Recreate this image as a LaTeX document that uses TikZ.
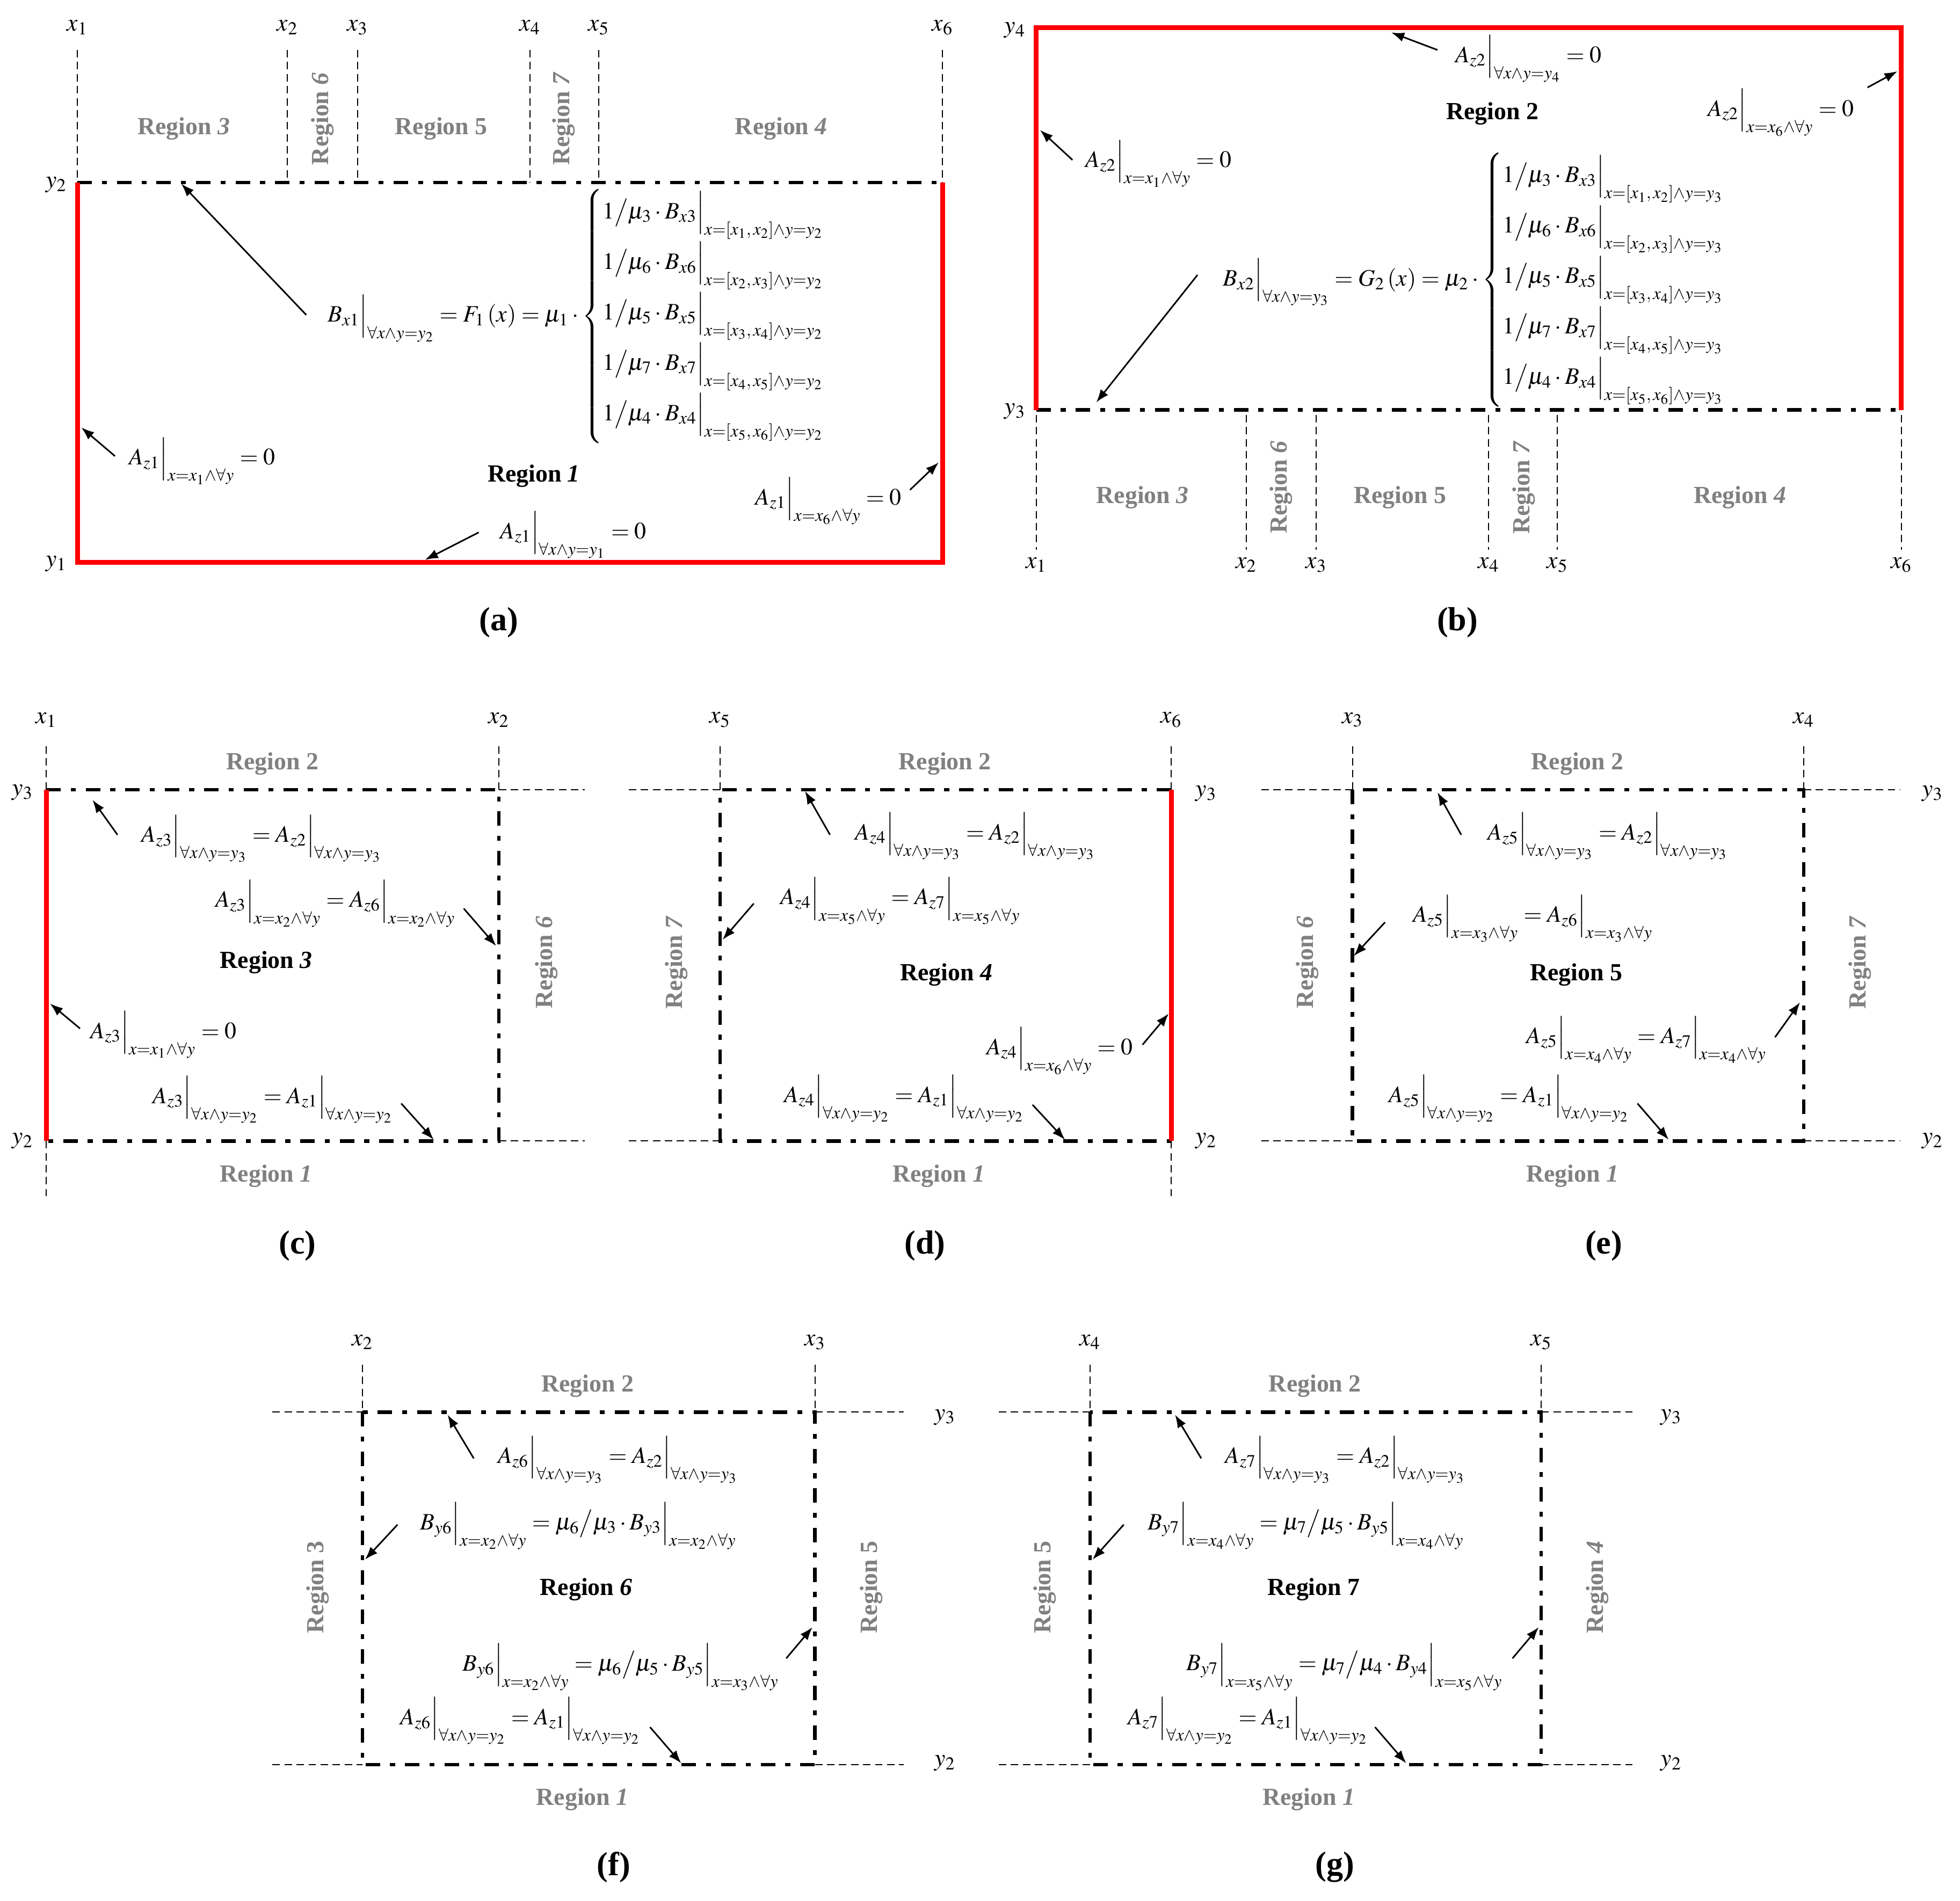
\documentclass[tikz,border=0pt]{standalone}
\usepackage{mathptmx}
\usepackage{fontspec}
\setmainfont{Liberation Serif}
\usetikzlibrary{arrows.meta}

\newcommand{\evalbar}[2]{#1\Big|_{#2}}
\newcommand{\brow}[4]{1\big/\mu_{#1}\cdot\evalbar{B_{x#1}}{x=\left[x_{#2},\,x_{#3}\right]\wedge y=y_{#4}}}

\begin{document}
\begin{tikzpicture}[x=0.025cm,y=-0.025cm,
      wall/.style={red,line width=2.8pt,line join=miter},
      iface/.style={line width=2pt,dash pattern=on 0.29cm off 0.2cm on 0.1cm off 0.2cm},
      guide/.style={line width=0.6pt,dash pattern=on 0.15cm off 0.09cm},
      pointer/.style={-{Latex[length=2.6mm,width=1.9mm]},line width=0.9pt},
      eq/.style={anchor=west,inner sep=0pt,font=\fontsize{13.4}{16}\selectfont},
      lbl/.style={inner sep=0pt,font=\fontsize{14}{16}\selectfont},
      reg/.style={inner sep=0pt,font=\fontsize{14}{16}\selectfont\bfseries},
      nbr/.style={reg,gray},
      nbrv/.style={nbr,rotate=90},
      tag/.style={inner sep=0pt,font=\fontsize{19}{22}\selectfont\bfseries}]
    \useasboundingbox[fill=white] (0,0) rectangle (1568,1521);

    % (a) region 1
    \foreach \i/\x in {1/62,2/230,3/286,4/424,5/479,6/754} {
        \draw[guide] (\x,40) -- (\x,146);
        \node[lbl] (a-x\i) at (\x,22) {$x_{\i}$};
    }
    \draw[iface] (62,146) -- (754,146);
    \draw[wall] (62,146) -- (62,450) -- (754,450) -- (754,146);
    \node[lbl] (a-y2) at (45,148) {$y_2$};
    \node[lbl] (a-y1) at (45,451) {$y_1$};
    \node[nbr] (a-r3) at (147,103) {Region \textit{3}};
    \node[nbrv] (a-r6) at (258,95) {Region \textit{6}};
    \node[nbr] (a-r5) at (353,103) {Region 5};
    \node[nbrv] (a-r7) at (451,95) {Region \textit{7}};
    \node[nbr] (a-r4) at (625,103) {Region \textit{4}};
    \node[reg] (a-r1) at (427,381) {Region \textit{1}};
    \node[eq] (a-bx) at (262,253) {$\evalbar{B_{x1}}{\forall x\wedge y=y_2}=F_1\left(x\right)=\mu_1\cdot\left\{\begin{array}{@{}l@{}}
        \brow{3}{1}{2}{2}\\[8.5pt]
        \brow{6}{2}{3}{2}\\[8.5pt]
        \brow{5}{3}{4}{2}\\[8.5pt]
        \brow{7}{4}{5}{2}\\[8.5pt]
        \brow{4}{5}{6}{2}
        \end{array}\right.$};
    \node[eq] (a-zl) at (103,369) {$\evalbar{A_{z1}}{x=x_1\wedge\forall y}=0$};
    \node[eq] (a-zr) at (604,401) {$\evalbar{A_{z1}}{x=x_6\wedge\forall y}=0$};
    \node[eq] (a-zb) at (400,428) {$\evalbar{A_{z1}}{\forall x\wedge y=y_1}=0$};
    \coordinate (a-s1) at (245,252); \coordinate (a-e1) at (145,147);
    \coordinate (a-s2) at (92,365);  \coordinate (a-e2) at (65,342);
    \coordinate (a-s3) at (728,392); \coordinate (a-e3) at (751,370);
    \coordinate (a-s4) at (383,426); \coordinate (a-e4) at (340,448);
    \foreach \k in {1,...,4}
        \draw[pointer] (a-s\k) -- (a-e\k);
    \node[tag] (a-tag) at (399,498) {(a)};

    % (b) region 2
    \foreach \i/\x in {1/829,2/997,3/1053,4/1191,5/1246,6/1521} {
        \draw[guide] (\x,332) -- (\x,440);
        \node[lbl] (b-x\i) at (\x,452) {$x_{\i}$};
    }
    \draw[iface] (829,328) -- (1521,328);
    \draw[wall] (829,328) -- (829,22) -- (1521,22) -- (1521,328);
    \node[lbl] (b-y4) at (812,24) {$y_4$};
    \node[lbl] (b-y3) at (812,329) {$y_3$};
    \node[nbr] (b-r3) at (914,398) {Region \textit{3}};
    \node[nbrv] (b-r6) at (1025,390) {Region \textit{6}};
    \node[nbr] (b-r5) at (1120,398) {Region 5};
    \node[nbrv] (b-r7) at (1219,390) {Region \textit{7}};
    \node[nbr] (b-r4) at (1392,398) {Region \textit{4}};
    \node[reg] (b-r2) at (1194,91) {Region 2};
    \node[eq] (b-bx) at (978,224) {$\evalbar{B_{x2}}{\forall x\wedge y=y_3}=G_2\left(x\right)=\mu_2\cdot\left\{\begin{array}{@{}l@{}}
        \brow{3}{1}{2}{3}\\[8.5pt]
        \brow{6}{2}{3}{3}\\[8.5pt]
        \brow{5}{3}{4}{3}\\[8.5pt]
        \brow{7}{4}{5}{3}\\[8.5pt]
        \brow{4}{5}{6}{3}
        \end{array}\right.$};
    \node[eq] (b-zt) at (1164,47) {$\evalbar{A_{z2}}{\forall x\wedge y=y_4}=0$};
    \node[eq] (b-zr) at (1366,90) {$\evalbar{A_{z2}}{x=x_6\wedge\forall y}=0$};
    \node[eq] (b-zl) at (868,131) {$\evalbar{A_{z2}}{x=x_1\wedge\forall y}=0$};
    \coordinate (b-s1) at (1150,40);  \coordinate (b-e1) at (1113,26);
    \coordinate (b-s2) at (1494,70);  \coordinate (b-e2) at (1518,57);
    \coordinate (b-s3) at (858,128);  \coordinate (b-e3) at (832,104);
    \coordinate (b-s4) at (958,220);  \coordinate (b-e4) at (877,322);
    \foreach \k in {1,...,4}
        \draw[pointer] (b-s\k) -- (b-e\k);
    \node[tag] (b-tag) at (1166,498) {(b)};

    % (c) region 3
    \draw[guide] (37,597) -- (37,632) (37,913) -- (37,957) (399,597) -- (399,632)
                 (399,632) -- (468,632) (399,913) -- (468,913);
    \draw[iface] (37,632) -- (399,632) -- (399,913) -- (37,913);
    \draw[wall] (37,632) -- (37,913);
    \node[lbl] (c-x1) at (37,576) {$x_1$};
    \node[lbl] (c-x2) at (399,576) {$x_2$};
    \node[lbl] (c-y3) at (18,634) {$y_3$};
    \node[lbl] (c-y2) at (18,913) {$y_2$};
    \node[nbr] (c-r2) at (218,611) {Region 2};
    \node[nbr] (c-r1) at (213,941) {Region \textit{1}};
    \node[nbrv] (c-r6) at (437,770) {Region \textit{6}};
    \node[reg] (c-r3) at (213,770) {Region \textit{3}};
    \node[eq] (c-e1) at (113,671) {$\evalbar{A_{z3}}{\forall x\wedge y=y_3}=\evalbar{A_{z2}}{\forall x\wedge y=y_3}$};
    \node[eq] (c-e2) at (172,723) {$\evalbar{A_{z3}}{x=x_2\wedge\forall y}=\evalbar{A_{z6}}{x=x_2\wedge\forall y}$};
    \node[eq] (c-e3) at (72,828) {$\evalbar{A_{z3}}{x=x_1\wedge\forall y}=0$};
    \node[eq] (c-e4) at (122,880) {$\evalbar{A_{z3}}{\forall x\wedge y=y_2}=\evalbar{A_{z1}}{\forall x\wedge y=y_2}$};
    \coordinate (c-s1) at (94,668);  \coordinate (c-e1) at (74,640);
    \coordinate (c-s2) at (371,727); \coordinate (c-e2) at (397,757);
    \coordinate (c-s3) at (64,823);  \coordinate (c-e3) at (40,803);
    \coordinate (c-s4) at (321,883); \coordinate (c-e4) at (347,912);
    \foreach \k in {1,...,4}
        \draw[pointer] (c-s\k) -- (c-e\k);
    \node[tag] (c-tag) at (238,997) {(c)};

    % (d) region 4
    \draw[guide] (576,597) -- (576,632) (937,597) -- (937,632) (937,913) -- (937,957)
                 (503,632) -- (576,632) (503,913) -- (576,913);
    \draw[iface] (937,632) -- (576,632) -- (576,913) -- (937,913);
    \draw[wall] (937,632) -- (937,913);
    \node[lbl] (d-x5) at (576,576) {$x_5$};
    \node[lbl] (d-x6) at (937,576) {$x_6$};
    \node[lbl] (d-y3) at (965,635) {$y_3$};
    \node[lbl] (d-y2) at (965,913) {$y_2$};
    \node[nbr] (d-r2) at (756,611) {Region 2};
    \node[nbr] (d-r1) at (751,941) {Region \textit{1}};
    \node[nbrv] (d-r7) at (541,770) {Region \textit{7}};
    \node[reg] (d-r4) at (757,780) {Region \textit{4}};
    \node[eq] (d-e1) at (684,669) {$\evalbar{A_{z4}}{\forall x\wedge y=y_3}=\evalbar{A_{z2}}{\forall x\wedge y=y_3}$};
    \node[eq] (d-e2) at (624,721) {$\evalbar{A_{z4}}{x=x_5\wedge\forall y}=\evalbar{A_{z7}}{x=x_5\wedge\forall y}$};
    \node[eq] (d-e3) at (789,841) {$\evalbar{A_{z4}}{x=x_6\wedge\forall y}=0$};
    \node[eq] (d-e4) at (627,879) {$\evalbar{A_{z4}}{\forall x\wedge y=y_2}=\evalbar{A_{z1}}{\forall x\wedge y=y_2}$};
    \coordinate (d-s1) at (664,668); \coordinate (d-e1) at (644,633);
    \coordinate (d-s2) at (603,723); \coordinate (d-e2) at (578,752);
    \coordinate (d-s3) at (914,836); \coordinate (d-e3) at (935,811);
    \coordinate (d-s4) at (826,884); \coordinate (d-e4) at (852,912);
    \foreach \k in {1,...,4}
        \draw[pointer] (d-s\k) -- (d-e\k);
    \node[tag] (d-tag) at (740,997) {(d)};

    % (e) region 5
    \draw[guide] (1082,597) -- (1082,632) (1443,597) -- (1443,632)
                 (1009,632) -- (1082,632) (1443,632) -- (1520,632)
                 (1009,913) -- (1082,913) (1443,913) -- (1520,913);
    \draw[iface] (1082,632) rectangle (1443,913);
    \node[lbl] (e-x3) at (1082,576) {$x_3$};
    \node[lbl] (e-x4) at (1443,576) {$x_4$};
    \node[lbl] (e-y3) at (1546,635) {$y_3$};
    \node[lbl] (e-y2) at (1546,913) {$y_2$};
    \node[nbr] (e-r2) at (1262,611) {Region 2};
    \node[nbr] (e-r1) at (1258,941) {Region \textit{1}};
    \node[nbrv] (e-r6) at (1046,770) {Region \textit{6}};
    \node[nbrv] (e-r7) at (1488,770) {Region \textit{7}};
    \node[reg] (e-r5) at (1261,780) {Region 5};
    \node[eq] (e-e1) at (1190,669) {$\evalbar{A_{z5}}{\forall x\wedge y=y_3}=\evalbar{A_{z2}}{\forall x\wedge y=y_3}$};
    \node[eq] (e-e2) at (1130,735) {$\evalbar{A_{z5}}{x=x_3\wedge\forall y}=\evalbar{A_{z6}}{x=x_3\wedge\forall y}$};
    \node[eq] (e-e3) at (1221,832) {$\evalbar{A_{z5}}{x=x_4\wedge\forall y}=\evalbar{A_{z7}}{x=x_4\wedge\forall y}$};
    \node[eq] (e-e4) at (1111,879) {$\evalbar{A_{z5}}{\forall x\wedge y=y_2}=\evalbar{A_{z1}}{\forall x\wedge y=y_2}$};
    \coordinate (e-s1) at (1169,668); \coordinate (e-e1) at (1150,634);
    \coordinate (e-s2) at (1108,738); \coordinate (e-e2) at (1083,765);
    \coordinate (e-s3) at (1420,830); \coordinate (e-e3) at (1440,802);
    \coordinate (e-s4) at (1310,883); \coordinate (e-e4) at (1335,912);
    \foreach \k in {1,...,4}
        \draw[pointer] (e-s\k) -- (e-e\k);
    \node[tag] (e-tag) at (1283,997) {(e)};

    % (f) region 6
    \draw[guide] (290,1092) -- (290,1130) (652,1092) -- (652,1130)
                 (218,1130) -- (290,1130) (652,1130) -- (723,1130)
                 (218,1412) -- (290,1412) (652,1412) -- (723,1412);
    \draw[iface] (290,1130) rectangle (652,1412);
    \node[lbl] (f-x2) at (290,1074) {$x_2$};
    \node[lbl] (f-x3) at (652,1074) {$x_3$};
    \node[lbl] (f-y3) at (756,1134) {$y_3$};
    \node[lbl] (f-y2) at (756,1411) {$y_2$};
    \node[nbr] (f-r2) at (470,1109) {Region 2};
    \node[nbr] (f-r1) at (466,1440) {Region \textit{1}};
    \node[nbrv] (f-r3) at (254,1270) {Region 3};
    \node[nbrv] (f-r5) at (697,1270) {Region 5};
    \node[reg] (f-r6) at (469,1272) {Region \textit{6}};
    \node[eq] (f-e1) at (398,1168) {$\evalbar{A_{z6}}{\forall x\wedge y=y_3}=\evalbar{A_{z2}}{\forall x\wedge y=y_3}$};
    \node[eq] (f-e2) at (336,1221) {$\evalbar{B_{y6}}{x=x_2\wedge\forall y}=\mu_6\big/\mu_3\cdot\evalbar{B_{y3}}{x=x_2\wedge\forall y}$};
    \node[eq] (f-e3) at (370,1334) {$\evalbar{B_{y6}}{x=x_2\wedge\forall y}=\mu_6\big/\mu_5\cdot\evalbar{B_{y5}}{x=x_3\wedge\forall y}$};
    \node[eq] (f-e4) at (320,1377) {$\evalbar{A_{z6}}{\forall x\wedge y=y_2}=\evalbar{A_{z1}}{\forall x\wedge y=y_2}$};
    \coordinate (f-s1) at (379,1167); \coordinate (f-e1) at (358,1132);
    \coordinate (f-s2) at (318,1220); \coordinate (f-e2) at (292,1248);
    \coordinate (f-s3) at (629,1327); \coordinate (f-e3) at (650,1302);
    \coordinate (f-s4) at (520,1382); \coordinate (f-e4) at (545,1411);
    \foreach \k in {1,...,4}
        \draw[pointer] (f-s\k) -- (f-e\k);
    \node[tag] (f-tag) at (491,1494) {(f)};

    % (g) region 7
    \draw[guide] (872,1092) -- (872,1130) (1233,1092) -- (1233,1130)
                 (799,1130) -- (872,1130) (1233,1130) -- (1306,1130)
                 (799,1412) -- (872,1412) (1233,1412) -- (1306,1412);
    \draw[iface] (872,1130) rectangle (1233,1412);
    \node[lbl] (g-x4) at (872,1074) {$x_4$};
    \node[lbl] (g-x5) at (1233,1074) {$x_5$};
    \node[lbl] (g-y3) at (1337,1134) {$y_3$};
    \node[lbl] (g-y2) at (1337,1411) {$y_2$};
    \node[nbr] (g-r2) at (1052,1109) {Region 2};
    \node[nbr] (g-r1) at (1047,1440) {Region \textit{1}};
    \node[nbrv] (g-r5) at (836,1270) {Region 5};
    \node[nbrv] (g-r4) at (1278,1270) {Region \textit{4}};
    \node[reg] (g-r7) at (1051,1272) {Region 7};
    \node[eq] (g-e1) at (980,1168) {$\evalbar{A_{z7}}{\forall x\wedge y=y_3}=\evalbar{A_{z2}}{\forall x\wedge y=y_3}$};
    \node[eq] (g-e2) at (918,1221) {$\evalbar{B_{y7}}{x=x_4\wedge\forall y}=\mu_7\big/\mu_5\cdot\evalbar{B_{y5}}{x=x_4\wedge\forall y}$};
    \node[eq] (g-e3) at (949,1334) {$\evalbar{B_{y7}}{x=x_5\wedge\forall y}=\mu_7\big/\mu_4\cdot\evalbar{B_{y4}}{x=x_5\wedge\forall y}$};
    \node[eq] (g-e4) at (902,1377) {$\evalbar{A_{z7}}{\forall x\wedge y=y_2}=\evalbar{A_{z1}}{\forall x\wedge y=y_2}$};
    \coordinate (g-s1) at (961,1167);  \coordinate (g-e1) at (940,1132);
    \coordinate (g-s2) at (899,1220);  \coordinate (g-e2) at (874,1248);
    \coordinate (g-s3) at (1210,1327); \coordinate (g-e3) at (1231,1302);
    \coordinate (g-s4) at (1100,1382); \coordinate (g-e4) at (1125,1411);
    \foreach \k in {1,...,4}
        \draw[pointer] (g-s\k) -- (g-e\k);
    \node[tag] (g-tag) at (1068,1494) {(g)};
\end{tikzpicture}
\end{document}
